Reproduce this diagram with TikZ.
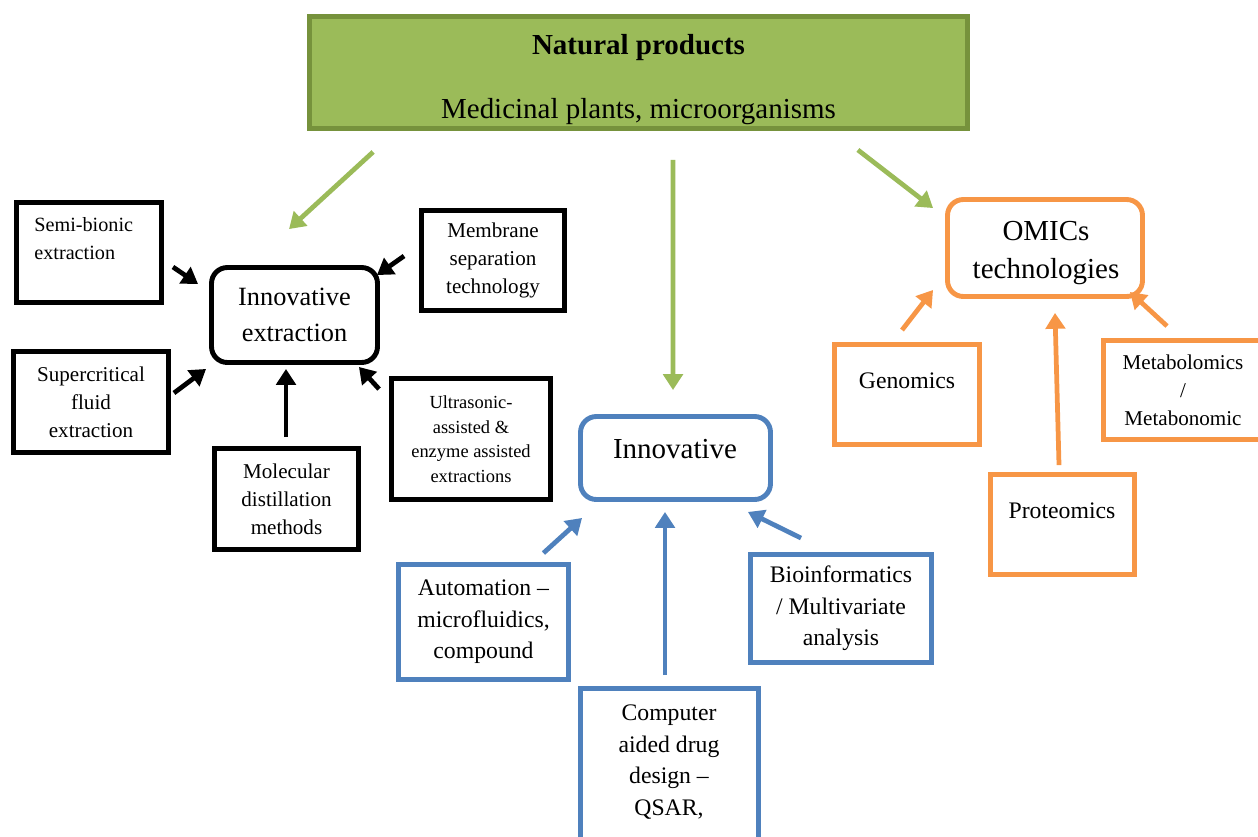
\documentclass[tikz,border=0pt]{standalone}
\usepackage{fontspec}
\setmainfont{Liberation Serif}
\usetikzlibrary{arrows.meta}
\definecolor{leaf}{HTML}{9BBB59}
\definecolor{leafrim}{HTML}{76923C}
\definecolor{steel}{HTML}{4F81BD}
\definecolor{amber}{HTML}{F79646}
\newcommand{\fsz}[2]{\fontsize{#1}{#2}\selectfont}
\tikzset{
  box/.style={draw, line width=2.8pt, inner sep=0pt, align=center},
  hub/.style={box, rounded corners=9pt},
  link/.style={line width=2.7pt, -{Triangle[length=9pt,width=11pt]}},
}
\begin{document}
\begin{tikzpicture}[x=0.02cm,y=-0.02cm]
  \path[use as bounding box, clip] (0,0) rectangle (1258,836);
  % source
  \node[box, fill=leaf, draw=leafrim, minimum width=13.16cm, minimum height=2.24cm] (np) at (638.5,72.5) {};
  \node[font=\fsz{16.5}{36}, align=center] (np-t) at (638.5,79.5) {\textbf{Natural products}\\Medicinal plants, microorganisms};
  % extraction
  \node[hub, minimum width=3.32cm, minimum height=1.9cm, font=\fsz{15}{20.5}] (ie) at (294.5,315) {Innovative\\extraction};
  \node[box, minimum width=2.9cm, minimum height=2cm] (semi) at (89,252.5) {};
  \node[font=\fsz{11.5}{16}, align=left, anchor=west, inner sep=0pt] (semi-t) at (34,239) {Semi-bionic\\extraction};
  \node[box, minimum width=2.86cm, minimum height=2cm, font=\fsz{12}{16}] (memb) at (493,260.5) {Membrane\\separation\\technology};
  \node[box, minimum width=3.1cm, minimum height=2.02cm, font=\fsz{12}{16}] (super) at (91,402) {Supercritical\\fluid\\extraction};
  \node[box, minimum width=2.88cm, minimum height=2.02cm, font=\fsz{12}{16}] (molec) at (286.5,499) {Molecular\\distillation\\methods};
  \node[box, minimum width=3.18cm, minimum height=2.42cm, font=\fsz{10.5}{14}] (ultra) at (471,439) {Ultrasonic-\\assisted \&\\enzyme assisted\\extractions};
  % innovative
  \node[hub, draw=steel, minimum width=3.8cm, minimum height=1.66cm] (inn) at (675.5,458) {};
  \node[font=\fsz{16.5}{20}] (inn-t) at (675,449) {Innovative};
  \node[box, draw=steel, minimum width=3.4cm, minimum height=2.3cm, font=\fsz{13.5}{18}] (auto) at (483.5,622) {Automation --\\microfluidics,\\compound};
  \node[box, draw=steel, minimum width=3.56cm, minimum height=3.38cm] (cadd) at (669.5,773) {};
  \node[font=\fsz{13.5}{18}, align=center] (cadd-t) at (669,762) {Computer\\aided drug\\design --\\QSAR,};
  \node[box, draw=steel, minimum width=3.62cm, minimum height=2.16cm, font=\fsz{13.5}{18}] (bio) at (841,608.5) {Bioinformatics\\/ Multivariate\\analysis};
  % omics
  \node[hub, draw=amber, minimum width=3.9cm, minimum height=1.94cm] (omics) at (1045,248) {};
  \node[font=\fsz{16.5}{21.5}, align=center] (omics-t) at (1046,253) {OMICs\\technologies};
  \node[box, draw=amber, minimum width=2.9cm, minimum height=2cm] (gen) at (907,394.5) {};
  \node[font=\fsz{13.5}{18}] (gen-t) at (907,381) {Genomics};
  \node[box, draw=amber, minimum width=2.88cm, minimum height=2cm] (prot) at (1062.5,524.5) {};
  \node[font=\fsz{13.5}{18}] (prot-t) at (1062,511) {Proteomics};
  \node[box, draw=amber, minimum width=3.18cm, minimum height=1.98cm, font=\fsz{12}{16}] (metab) at (1183,390) {Metabolomics\\/\\Metabonomic};
  % arrows
  \draw[link, leaf] ([shift={(66,21)}]np.south west) -- ([shift={(-5.5,-36)}]ie.north);
  \draw[link, leaf] ([shift={(34.5,29)}]np.south) -- ([shift={(-2.5,-24)}]inn.north);
  \draw[link, leaf] ([shift={(-112,19)}]np.south east) -- ([shift={(-12,11)}]omics.north west);
  \draw[link] ([shift={(9,14.5)}]semi.east) -- ([shift={(-11,-31)}]ie.west);
  \draw[link] ([shift={(-15,-4.5)}]memb.west) -- ([shift={(-3,10)}]ie.north east);
  \draw[link] ([shift={(3,-9)}]super.east) -- ([shift={(-3,4)}]ie.south west);
  \draw[link] ([shift={(-0.5,-9)}]molec.north) -- ([shift={(-8.5,4)}]ie.south);
  \draw[link] ([shift={(-10,13)}]ultra.north west) -- ([shift={(-21,2)}]ie.south east);
  \draw[link, steel] ([shift={(-27.5,-9)}]auto.north east) -- ([shift={(4,16)}]inn.south west);
  \draw[link, steel] ([shift={(-4.5,-11)}]cadd.north) -- ([shift={(-10.5,10)}]inn.south);
  \draw[link, steel] ([shift={(-40,-14)}]bio.north) -- ([shift={(-25,10)}]inn.south east);
  \draw[link, amber] ([shift={(-5,-12)}]gen.north) -- ([shift={(-12,-9)}]omics.south west);
  \draw[link, amber] ([shift={(-3.5,-7)}]prot.north) -- ([shift={(10,14)}]omics.south);
  \draw[link, amber] ([shift={(-16,-12)}]metab.north) -- ([shift={(-15,-7)}]omics.south east);
\end{tikzpicture}
\end{document}
